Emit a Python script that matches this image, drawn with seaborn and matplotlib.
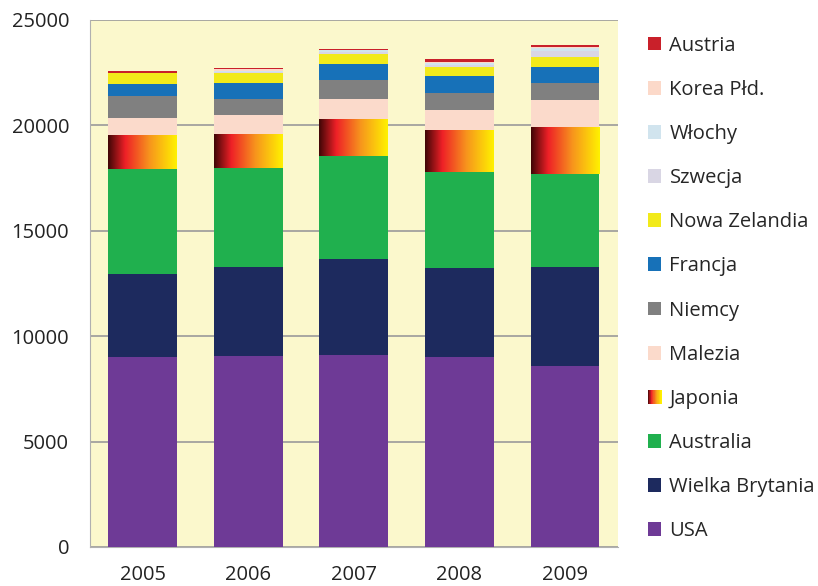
import numpy as np
import matplotlib
matplotlib.use("Agg")
import matplotlib.pyplot as plt
import seaborn as sns
from matplotlib.patches import Patch, Rectangle
from matplotlib.colors import LinearSegmentedColormap
from matplotlib.legend_handler import HandlerBase

years = ["2005", "2006", "2007", "2008", "2009"]

# series from bottom of the stack to the top
usa = [9000, 9060, 9110, 9000, 8600]
wielka_brytania = [3970, 4220, 4540, 4240, 4690]
australia = [4970, 4700, 4880, 4540, 4400]
japonia = [1590, 1600, 1760, 2010, 2220]
malezia = [810, 890, 980, 950, 1270]
niemcy = [1050, 790, 860, 800, 840]
francja = [590, 750, 790, 800, 750]
nowa_zelandia = [480, 480, 480, 430, 480]
szwecja = [10, 20, 60, 100, 290]
wlochy = [15, 90, 90, 100, 130]
korea = [20, 60, 15, 50, 30]
austria = [50, 50, 45, 110, 100]

series = [
    ("USA", usa, "#6e3a96"),
    ("Wielka Brytania", wielka_brytania, "#1d2a5e"),
    ("Australia", australia, "#20b04e"),
    ("Japonia", japonia, None),
    ("Malezia", malezia, "#fbdacb"),
    ("Niemcy", niemcy, "#808080"),
    ("Francja", francja, "#1771b8"),
    ("Nowa Zelandia", nowa_zelandia, "#f2ea1a"),
    ("Szwecja", szwecja, "#d9d6e4"),
    ("Włochy", wlochy, "#d1e4ee"),
    ("Korea Płd.", korea, "#fcd9c9"),
    ("Austria", austria, "#c9202a"),
]

# Japonia is filled with a dark red -> red -> orange -> yellow gradient
jap_cmap = LinearSegmentedColormap.from_list(
    "jap", [(0, "#3f0606"), (0.25, "#ee2027"), (0.6, "#f7941d"), (1, "#fff200")])

sns.set_style("white")
plt.rcParams["font.family"] = ["Open Sans", "DejaVu Sans"]

fig = plt.figure(figsize=(8.18, 5.86), dpi=100)
ax = fig.add_axes([0.110, 0.0666, 0.645, 0.8994])
ax.set_facecolor("#fbf8cc")

bottom = np.zeros(len(years))
for name, vals, col in series:
    n_before = len(ax.patches)
    sns.barplot(x=years, y=vals, bottom=bottom, color=col if col else "#ee2027",
                width=0.65, saturation=1, errorbar=None, ax=ax,
                edgecolor="none", linewidth=0, zorder=3)
    if col is None:
        grad = np.linspace(0, 1, 256).reshape(1, -1)
        for p in ax.patches[n_before:]:
            x0, y0 = p.get_x(), p.get_y()
            w, h = p.get_width(), p.get_height()
            im = ax.imshow(grad, cmap=jap_cmap, aspect="auto",
                           extent=(x0, x0 + w, y0, y0 + h), zorder=3.5)
            im.set_clip_path(p)
            p.set_facecolor("none")
    bottom = bottom + np.array(vals)

ax.set_xlim(-0.5, 4.5)
ax.set_ylim(0, 25000)
ax.set_yticks(range(0, 25001, 5000))
ax.yaxis.grid(True, color="#9a9a9a", linewidth=1.2, zorder=1)
ax.set_axisbelow(True)
ax.spines["right"].set_visible(False)
ax.spines["top"].set_visible(False)
ax.spines["left"].set_color("#b0b0b0")
ax.spines["bottom"].set_color("#b0b0b0")
ax.tick_params(axis="both", length=0, labelsize=14.5, colors="#222222")
ax.tick_params(axis="y", pad=15)
ax.tick_params(axis="x", pad=13)
ax.set_xlabel("")
ax.set_ylabel("")


class GradientHandler(HandlerBase):
    def create_artists(self, legend, orig_handle, xdescent, ydescent,
                       width, height, fontsize, trans):
        n = 24
        arts = []
        for i in range(n):
            arts.append(Rectangle((-xdescent + width * i / n, -ydescent), width / n + 0.3,
                                  height, facecolor=jap_cmap(i / (n - 1)),
                                  edgecolor="none", transform=trans))
        return arts


handles = []
labels = []
hmap = {}
for name, vals, col in reversed(series):
    if col is None:
        h = Patch(facecolor="#ee2027")
        hmap[h] = GradientHandler()
    else:
        h = Patch(facecolor=col, edgecolor="none")
    handles.append(h)
    labels.append(name)

fig.legend(handles, labels, handler_map=hmap, loc="upper left",
           bbox_to_anchor=(0.782, 0.953), frameon=False, fontsize=14.5,
           handlelength=0.68, handleheight=0.68, handletextpad=0.4,
           labelspacing=1.2, borderaxespad=0)

fig.savefig("out.png", dpi=100, facecolor="white")
